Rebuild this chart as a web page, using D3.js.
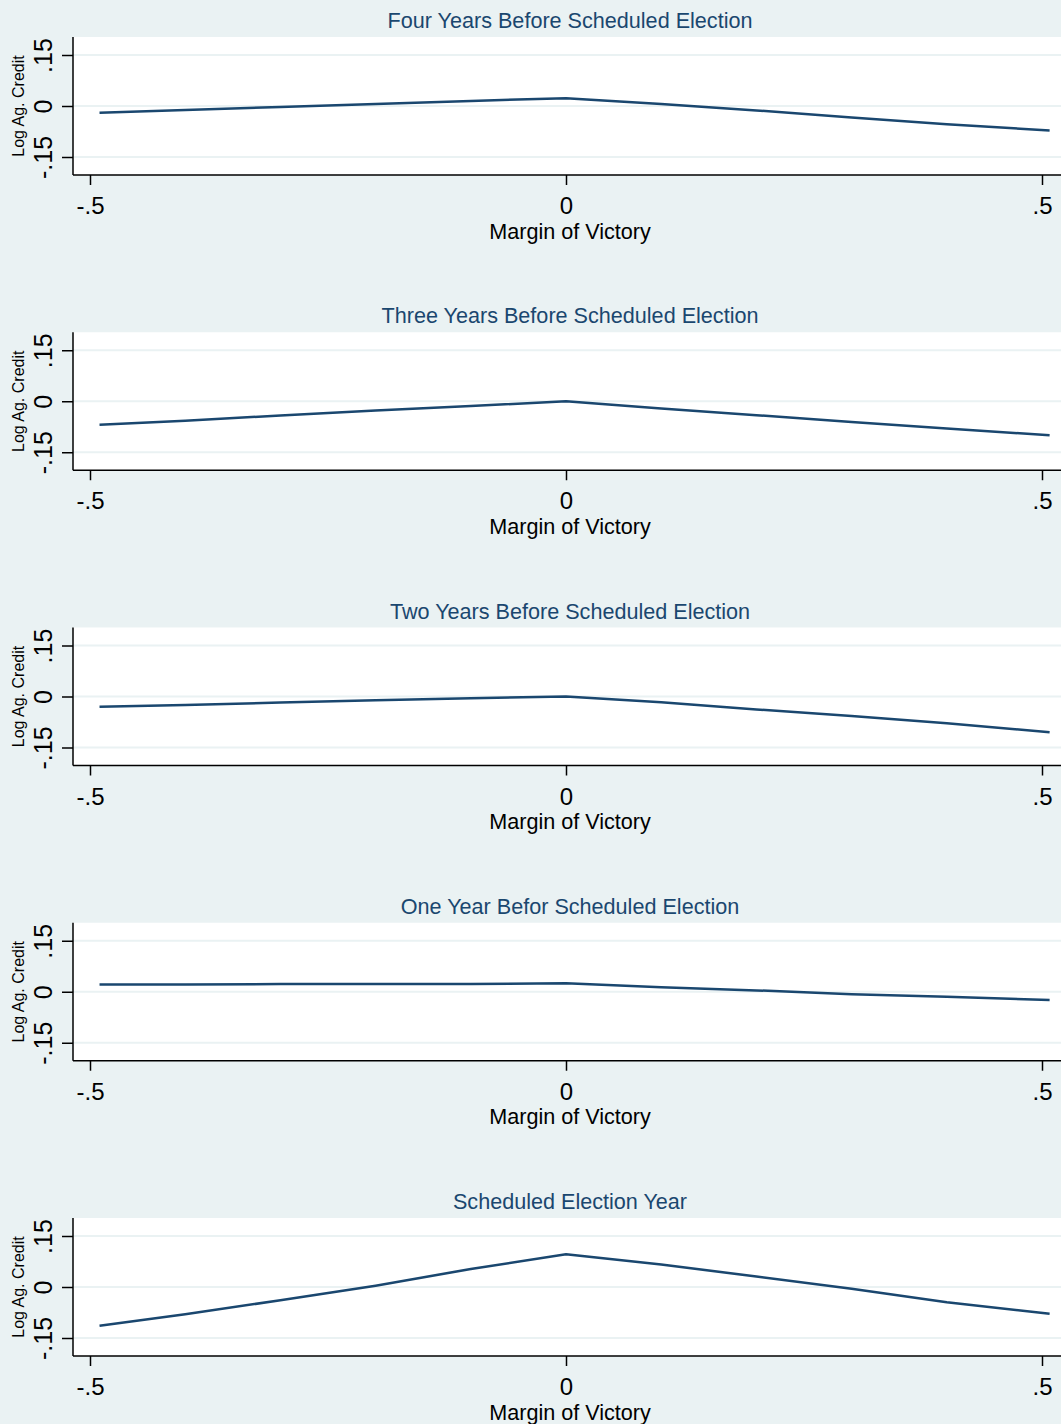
<!DOCTYPE html>
<html>
<head>
<meta charset="utf-8">
<script src="https://cdn.jsdelivr.net/npm/d3@7"></script>
<style>
  body { margin: 0; background: #eaf2f3; }
  text { font-family: "Liberation Sans", Arial, sans-serif; }
</style>
</head>
<body>
<div id="chart"></div>
<script>
// margin of victory grid (x values of the fitted line)
const margins = [-0.49, -0.4, -0.3, -0.2, -0.1, 0, 0.1, 0.2, 0.3, 0.4, 0.508]

const titles = [
  'Four Years Before Scheduled Election',
  'Three Years Before Scheduled Election',
  'Two Years Before Scheduled Election',
  'One Year Befor Scheduled Election',
  'Scheduled Election Year',
]

// log ag. credit, one array per panel
const fourYears = [-0.020, -0.012, -0.003, 0.006, 0.015, 0.023, 0.006, -0.013, -0.034, -0.054, -0.072]
const threeYears = [-0.069, -0.057, -0.042, -0.027, -0.014, 0.0, -0.021, -0.041, -0.061, -0.080, -0.100]
const twoYears = [-0.030, -0.025, -0.018, -0.011, -0.005, 0.0, -0.017, -0.038, -0.057, -0.079, -0.105]
const oneYear = [0.021, 0.021, 0.0225, 0.0225, 0.0225, 0.025, 0.013, 0.004, -0.007, -0.015, -0.024]
const electionYear = [-0.114, -0.080, -0.039, 0.004, 0.053, 0.096, 0.066, 0.031, -0.005, -0.045, -0.079]

const series = [fourYears, threeYears, twoYears, oneYear, electionYear]

const xTicks = [-0.5, 0, 0.5]
const xTickLabels = ['-.5', '0', '.5']
const yTicks = [-0.15, 0, 0.15]
const yTickLabels = ['-.15', '0', '.15']

const width = 1061
const height = 1424
const panelStep = 295.25
const navy = '#1a476f'
const bg = '#eaf2f3'

const svg = d3
  .select('#chart')
  .append('svg')
  .attr('width', width)
  .attr('height', height)

svg.append('rect').attr('width', width).attr('height', height).attr('fill', bg)

// x scale shared by all panels
const scaleX = d3.scaleLinear().domain([-0.5, 0.5]).range([90, 1042])
const plotLeft = 73
const plotRight = width

series.forEach((vals, i) => {
  const top = i * panelStep
  const scaleY = d3.scaleLinear().domain([-0.15, 0.15]).range([top + 157, top + 55])
  const plotTop = top + 37
  const plotBottom = top + 175

  const g = svg.append('g').attr('class', 'panel')

  // title
  g.append('text')
    .attr('x', 570)
    .attr('y', top + 28)
    .attr('text-anchor', 'middle')
    .attr('font-size', 21.6)
    .attr('fill', navy)
    .text(titles[i])

  // plot area
  g.append('rect')
    .attr('x', plotLeft)
    .attr('y', plotTop)
    .attr('width', plotRight - plotLeft)
    .attr('height', plotBottom - plotTop)
    .attr('fill', '#fff')

  // gridlines
  g.append('g')
    .selectAll('line')
    .data(yTicks)
    .enter()
    .append('line')
    .attr('x1', plotLeft)
    .attr('x2', plotRight)
    .attr('y1', d => scaleY(d))
    .attr('y2', d => scaleY(d))
    .attr('stroke', bg)
    .attr('stroke-width', 2)

  // line
  const line = d3
    .line()
    .x(d => scaleX(d[0]))
    .y(d => scaleY(d[1]))

  g.append('path')
    .datum(margins.map((m, j) => [m, vals[j]]))
    .attr('d', line)
    .attr('fill', 'none')
    .attr('stroke', navy)
    .attr('stroke-width', 2.5)
    .attr('stroke-linejoin', 'round')

  // y axis
  const axisY = d3
    .axisLeft(scaleY)
    .tickValues(yTicks)
    .tickFormat((d, k) => yTickLabels[k])
    .tickSize(11)
    .tickSizeOuter(0)

  const gy = g.append('g')
    .attr('transform', 'translate(' + plotLeft + ',0)')
    .call(axisY)
  gy.select('.domain').remove()
  gy.append('line')
    .attr('y1', plotTop)
    .attr('y2', plotBottom)
    .attr('stroke', '#000')
    .attr('stroke-width', 1.5)
  gy.selectAll('.tick line').attr('stroke', '#000').attr('stroke-width', 1.5)
  gy.selectAll('.tick text')
    .attr('font-size', 25)
    .attr('fill', '#000')
    .attr('font-family', '"Liberation Sans", Arial, sans-serif')
    .attr('text-anchor', 'middle')
    .attr('dy', null)
    .attr('x', null)
    .attr('transform', 'translate(-21,0) rotate(-90)')

  g.append('text')
    .attr('transform', 'translate(24,' + (top + 106) + ') rotate(-90)')
    .attr('text-anchor', 'middle')
    .attr('font-size', 16)
    .attr('fill', '#000')
    .text('Log Ag. Credit')

  // x axis
  const axisX = d3
    .axisBottom(scaleX)
    .tickValues(xTicks)
    .tickFormat((d, k) => xTickLabels[k])
    .tickSize(10)
    .tickSizeOuter(0)

  const gx = g.append('g')
    .attr('transform', 'translate(0,' + plotBottom + ')')
    .call(axisX)
  gx.select('.domain').remove()
  gx.append('line')
    .attr('x1', plotLeft)
    .attr('x2', plotRight)
    .attr('stroke', '#000')
    .attr('stroke-width', 1.5)
  gx.selectAll('.tick line').attr('stroke', '#000').attr('stroke-width', 1.5)
  gx.selectAll('.tick text')
    .attr('font-size', 24)
    .attr('fill', '#000')
    .attr('font-family', '"Liberation Sans", Arial, sans-serif')
    .attr('dy', null)
    .attr('y', 39)

  g.append('text')
    .attr('x', 570)
    .attr('y', top + 238.5)
    .attr('text-anchor', 'middle')
    .attr('font-size', 21.6)
    .attr('fill', '#000')
    .text('Margin of Victory')
})
</script>
</body>
</html>
